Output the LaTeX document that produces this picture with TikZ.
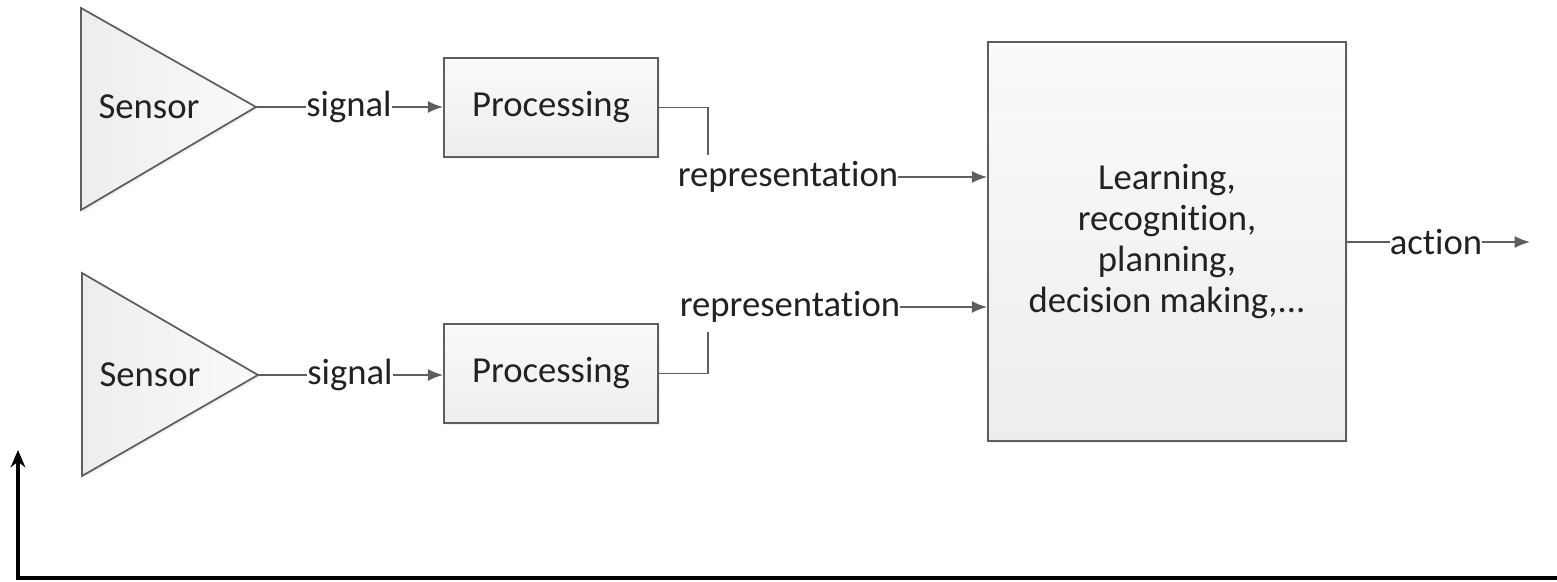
\documentclass[tikz,border=0pt]{standalone}
\usepackage{fontspec}
\setmainfont[Ligatures={TeX,NoCommon,NoRare,NoContextual},Contextuals=NoAlternate]{Carlito}
\usetikzlibrary{arrows.meta,shadows}
\definecolor{edge}{HTML}{5E5E5E}
\definecolor{txt}{HTML}{222222}
\newcommand{\tnolig}{t\kern0pt}
\begin{document}
\begin{tikzpicture}[x=0.75pt,y=-0.75pt,
  every node/.style={text=txt,font=\fontsize{27.5}{30.75}\selectfont},
  shapebox/.style={draw=edge,line width=1.3pt,top color=black!2,bottom color=black!7,
    drop shadow={opacity=0.12,shadow xshift=1.5pt,shadow yshift=-1.5pt}},
  tri/.style={draw=edge,line width=1.3pt,left color=black!7,right color=black!2,
    drop shadow={opacity=0.12,shadow xshift=1.5pt,shadow yshift=-1.5pt}},
  lbl/.style={inner sep=0pt,anchor=center},
  conn/.style={draw=edge,line width=1.2pt},
  arr/.style={conn,-{Latex[length=11.5pt,width=9pt]}},
  fb/.style={draw=black,line width=2.3pt,-{Stealth[length=13pt,width=11pt]}}]
\useasboundingbox (0,0) rectangle (1557,582);
% sensors
\path[tri] (81,8) -- (256,107) -- (81,210) -- cycle;
\coordinate (s1) at (256,107);
\node[lbl] (sn1) at (149,107) {Sensor};
\path[tri] (82,273) -- (258,375) -- (82,476) -- cycle;
\coordinate (s2) at (258,375);
\node[lbl] (sn2) at (150,375) {Sensor};
% processing
\node[shapebox,minimum width=214*0.75pt,minimum height=99*0.75pt,inner sep=0pt] (p1) at (551,107.5) {Processing};
\node[shapebox,minimum width=214*0.75pt,minimum height=99*0.75pt,inner sep=0pt] (p2) at (551,373.5) {Processing};
% big box
\node[shapebox,minimum width=358*0.75pt,minimum height=399*0.75pt,inner sep=0pt,align=center] (big) at (1167,241.5)
  {Learning,\\recogni\tnolig ion,\\planning,\\decision making,...};
% labels
\node[lbl] (sig1) at (349,107) {signal};
\node[lbl] (sig2) at (350,375) {signal};
\node[lbl] (rep1) at (788,177) {representa\tnolig ion};
\node[lbl] (rep2) at (790,307) {representa\tnolig ion};
\node[lbl] (act) at (1436,242) {ac\tnolig ion};
\coordinate (actend) at (1530,242);
\coordinate (c1) at (708,155);
\coordinate (c2) at (708,332);
% connectors
\draw[conn] (s1) -- (sig1.west);
\draw[arr] (sig1.east) -- (p1.west|-sig1);
\draw[conn] (s2) -- (sig2.west);
\draw[arr] (sig2.east) -- (p2.west|-sig2);
\draw[conn] (p1.east) -- (p1.east-|c1) -- (c1);
\draw[conn] (p2.east) -- (p2.east-|c2) -- (c2);
\draw[arr] (rep1.east) -- (big.west|-rep1);
\draw[arr] (rep2.east) -- (big.west|-rep2);
\draw[conn] (big.east|-act) -- (act.west);
\draw[arr] (act.east) -- (actend);
% feedback
\coordinate (fbr) at (1560,578);
\coordinate (fbl) at (18,578);
\coordinate (fbt) at (18,450);
\draw[fb] (fbr) -- (fbl) -- (fbt);
\end{tikzpicture}
\end{document}
